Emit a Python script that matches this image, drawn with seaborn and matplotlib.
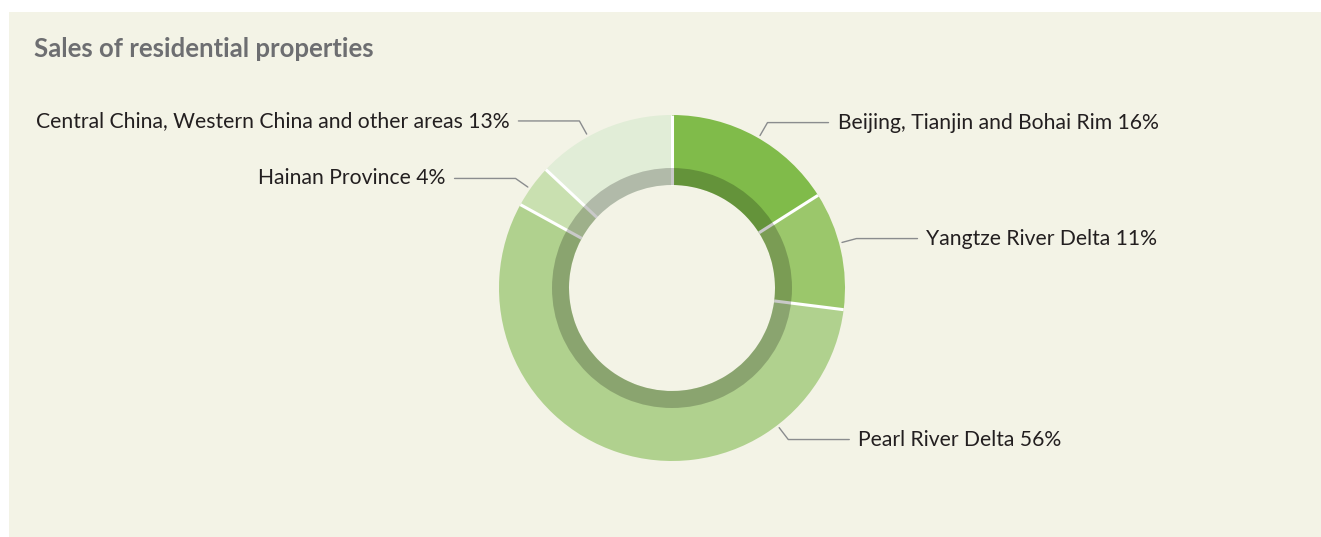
import numpy as np
import matplotlib
matplotlib.use('Agg')
import matplotlib.pyplot as plt
from matplotlib.patches import Rectangle, Wedge
import seaborn as sns

# Chart data
regions = ['Beijing, Tianjin and Bohai Rim', 'Yangtze River Delta', 'Pearl River Delta',
           'Hainan Province', 'Central China, Western China and other areas']
shares = [16, 11, 56, 4, 13]
slice_colors = ['#80bb4a', '#9bc76b', '#b0d18e', '#c9e0b0', '#e1edd7']
title = 'Sales of residential properties'

# Layout (pixels, y measured from the bottom)
W, H = 1321, 537
cx, cy = 672, 249
r_out, r_hole, r_band = 173, 103, 120
label_angles = [60, 15, -52.5, 145, 119]

sns.set_theme(style='white')
plt.rcParams['font.family'] = ['Lato', 'DejaVu Sans']

fig = plt.figure(figsize=(W / 100, H / 100), dpi=100, facecolor='white')
ax = fig.add_axes([0, 0, 1, 1])

# Beige panel
ax.add_patch(Rectangle((9, 0), W - 9, H - 12, facecolor='#f3f3e6', edgecolor='none', zorder=0))

wedges, _ = ax.pie(shares, colors=slice_colors, startangle=90, counterclock=False,
                   radius=r_out, center=(cx, cy),
                   wedgeprops=dict(width=r_out - r_hole, linewidth=0))

# White separators between slices
for w in wedges:
    t = np.deg2rad(w.theta1)
    ax.plot([cx + r_hole * np.cos(t), cx + r_out * np.cos(t)],
            [cy + r_hole * np.sin(t), cy + r_out * np.sin(t)],
            color='white', lw=2.2, solid_capstyle='butt', zorder=2)

# Darker inner band (shade over the slices)
ax.add_patch(Wedge((cx, cy), r_band, 0, 360, width=r_band - r_hole, facecolor='black',
                   alpha=0.21, linewidth=0, zorder=3))

# Labels with leader lines
for i, w in enumerate(wedges):
    a = np.deg2rad(label_angles[i])
    x0, y0 = cx + 176 * np.cos(a), cy + 176 * np.sin(a)
    x1, y1 = cx + 191 * np.cos(a), cy + 191 * np.sin(a)
    side = 1 if np.cos(a) >= 0 else -1
    x2 = x1 + side * 61
    ax.plot([x0, x1, x2], [y0, y1, y1], color='#8a8c8e', lw=1, zorder=4)
    ax.text(x2 + side * 9, y1, f'{regions[i]} {shares[i]}%', ha='left' if side > 0 else 'right',
            va='center', fontsize=15.2, color='#231f20')

ax.text(34, H - 49, title, fontsize=18.5, fontweight='bold', color='#6d6e71', va='center', ha='left')

ax.set_xlim(0, W)
ax.set_ylim(0, H)
ax.set_aspect('equal')
ax.axis('off')

fig.savefig('out.png', dpi=100, facecolor='white')
